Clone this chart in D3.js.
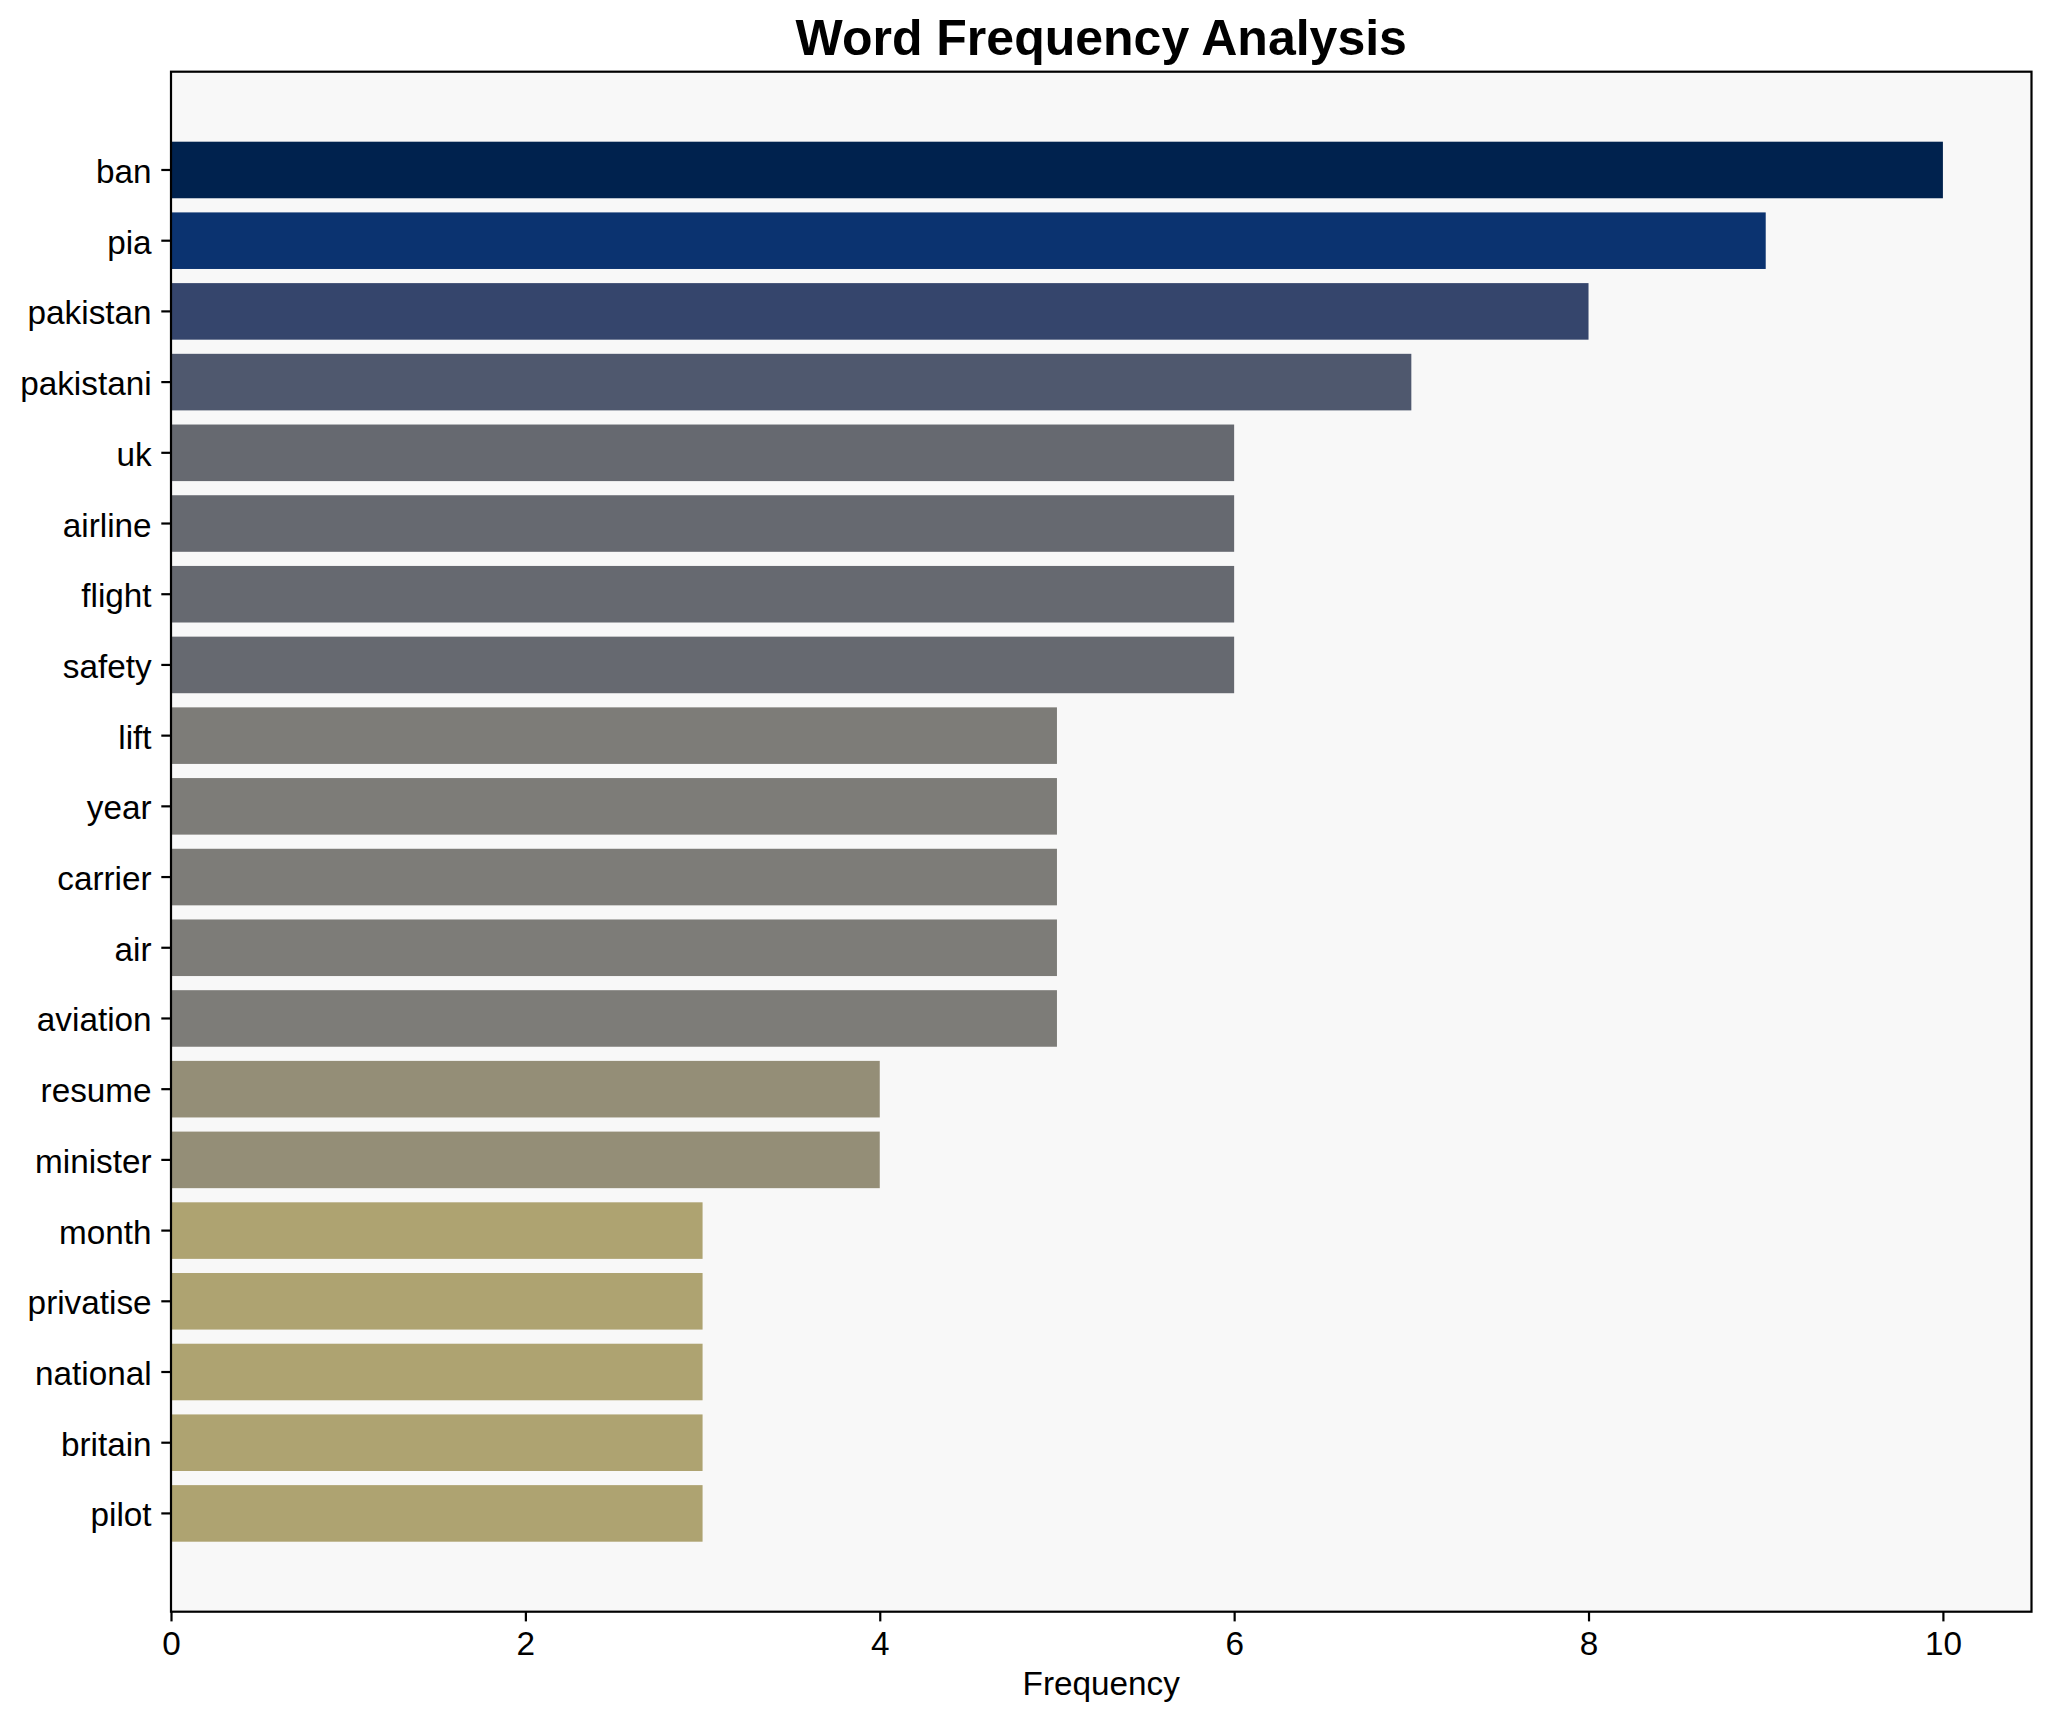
<!DOCTYPE html>
<html>
<head>
<meta charset="utf-8">
<script src="https://cdn.jsdelivr.net/npm/d3@7"></script>
<style>
  html, body { margin: 0; padding: 0; background: #ffffff; }
  svg { display: block; }
  text { font-family: "Liberation Sans", Arial, Helvetica, sans-serif; fill: #000; }
</style>
</head>
<body>
<svg id="chart" width="2051" height="1722"></svg>
<script>
// ---- data ----
const words = ["ban", "pia", "pakistan", "pakistani", "uk", "airline", "flight", "safety",
  "lift", "year", "carrier", "air", "aviation", "resume", "minister", "month",
  "privatise", "national", "britain", "pilot"];
const frequencies = [10, 9, 8, 7, 6, 6, 6, 6, 5, 5, 5, 5, 5, 4, 4, 3, 3, 3, 3, 3];
const xTicks = [0, 2, 4, 6, 8, 10];
const titleText = "Word Frequency Analysis";
const xLabelText = "Frequency";

// ---- colormap (matplotlib-like cividis stops, t = 0, 0.1, ... 1) ----
const cividisStops = ["#00224e", "#0b3370", "#35456c", "#4f586e", "#666970",
  "#7d7c78", "#948e77", "#aea371", "#c8b866", "#e3ce55", "#fee838"];
const cividis = d3.scaleLinear()
  .domain(d3.range(cividisStops.length).map(i => i / (cividisStops.length - 1)))
  .range(cividisStops)
  .interpolate(d3.interpolateRgb);

// ---- layout ----
const W = 2051, H = 1722;
const plot = { left: 171, right: 2031.5, top: 71.7, bottom: 1611.7 };
const fontSize = 33.3;

const svg = d3.select("#chart");
svg.append("rect").attr("x", 0).attr("y", 0).attr("width", W).attr("height", H).attr("fill", "#ffffff");

const maxF = d3.max(frequencies);
const x = d3.scaleLinear().domain([0, maxF * 1.05]).range([plot.left, plot.right]);
const y = d3.scaleBand().domain(words).range([plot.top, plot.bottom])
  .paddingInner(0.2).paddingOuter(0.99);
const color = v => cividis(1 - v / maxF);

// axes background
svg.append("rect")
  .attr("x", plot.left).attr("y", plot.top)
  .attr("width", plot.right - plot.left).attr("height", plot.bottom - plot.top)
  .attr("fill", "#f8f8f8");

// bars
svg.append("g").selectAll("rect")
  .data(words.map((w, i) => ({ w, v: frequencies[i] })))
  .join("rect")
  .attr("x", x(0))
  .attr("y", d => y(d.w))
  .attr("width", d => x(d.v) - x(0))
  .attr("height", y.bandwidth())
  .attr("fill", d => color(d.v));

// x axis
const xAxis = d3.axisBottom(x).tickValues(xTicks).tickFormat(d3.format("d"))
  .tickSize(9.7).tickPadding(9.7);
const gx = svg.append("g").attr("transform", `translate(0,${plot.bottom})`).call(xAxis);
gx.select(".domain").remove();
gx.selectAll(".tick line").attr("stroke", "#000").attr("stroke-width", 2.2);
gx.selectAll(".tick text").attr("font-size", fontSize).attr("dy", null)
  .attr("y", 43.5).attr("font-family", "Liberation Sans, Arial, sans-serif");

// y axis
const yAxis = d3.axisLeft(y).tickSize(9.7).tickPadding(9.7);
const gy = svg.append("g").attr("transform", `translate(${plot.left},0)`).call(yAxis);
gy.select(".domain").remove();
gy.selectAll(".tick line").attr("stroke", "#000").attr("stroke-width", 2.2);
gy.selectAll(".tick text").attr("font-size", fontSize).attr("dy", "0.39em")
  .attr("font-family", "Liberation Sans, Arial, sans-serif");

// spines
svg.append("rect")
  .attr("x", plot.left).attr("y", plot.top)
  .attr("width", plot.right - plot.left).attr("height", plot.bottom - plot.top)
  .attr("fill", "none").attr("stroke", "#000").attr("stroke-width", 2.2);

// title
svg.append("text")
  .attr("x", (plot.left + plot.right) / 2).attr("y", 55)
  .attr("text-anchor", "middle")
  .attr("font-size", 50).attr("font-weight", "bold")
  .text(titleText);

// x label
svg.append("text")
  .attr("x", (plot.left + plot.right) / 2).attr("y", 1695)
  .attr("text-anchor", "middle")
  .attr("font-size", fontSize)
  .text(xLabelText);
</script>
</body>
</html>
